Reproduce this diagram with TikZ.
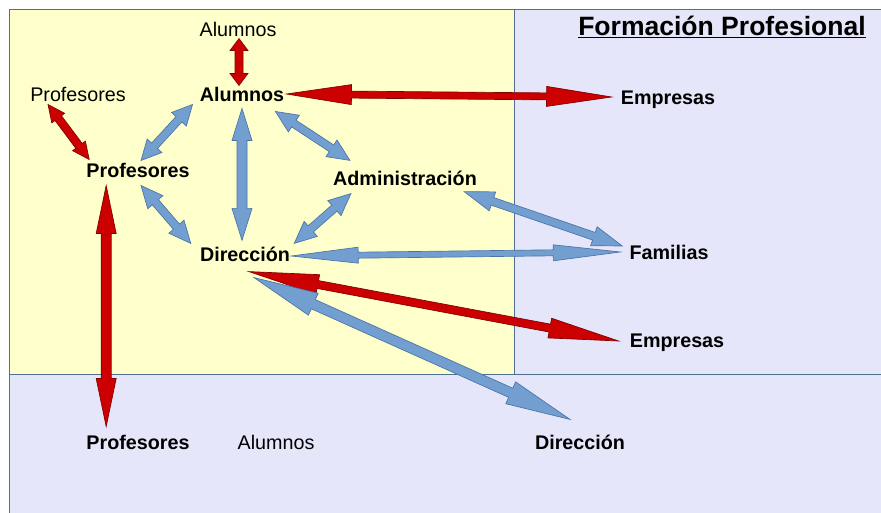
\documentclass[tikz,border=0pt]{standalone}
\usepackage{fontspec}
\setmainfont{Liberation Sans}
\usetikzlibrary{calc}

\definecolor{paleyellow}{HTML}{FFFFCC}
\definecolor{lavender}{HTML}{E6E6FA}
\definecolor{framecol}{HTML}{4F6F94}
\definecolor{redfill}{HTML}{CC0000}
\definecolor{redline}{HTML}{7F0000}
\definecolor{bluefill}{HTML}{729FCF}
\definecolor{blueline}{HTML}{4A74A8}

\tikzset{
    frame/.style={draw=framecol, line width=0.6pt},
    lbl/.style={font=\fontsize{14.8}{17}\selectfont, inner sep=0pt},
    blbl/.style={lbl, font=\fontsize{14.8}{17}\selectfont\bfseries},
    redarrow/.style={fill=redfill, draw=redline, line width=0.5pt, line join=miter},
    bluearrow/.style={fill=bluefill, draw=blueline, line width=0.5pt, line join=miter},
}

% #1 style, #2 head length, #3 head half width, #4 shaft half width (all px), #5 from, #6 to
\newcommand{\fatarrow}[6]{%
    \coordinate (fa1) at (#5);
    \coordinate (fa2) at (#6);
    \coordinate (fap) at ($(fa1)!#2*0.75pt!(fa2)$);
    \coordinate (faq) at ($(fa2)!#2*0.75pt!(fa1)$);
    \filldraw[#1] (fa1) -- ($(fap)!#3*0.75pt!90:(fa2)$) -- ($(fap)!#4*0.75pt!90:(fa2)$)
        -- ($(faq)!#4*0.75pt!-90:(fa1)$) -- ($(faq)!#3*0.75pt!-90:(fa1)$) -- (fa2)
        -- ($(faq)!#3*0.75pt!90:(fa1)$) -- ($(faq)!#4*0.75pt!90:(fa1)$)
        -- ($(fap)!#4*0.75pt!-90:(fa2)$) -- ($(fap)!#3*0.75pt!-90:(fa2)$) -- cycle;
}

\begin{document}
\begin{tikzpicture}[x=0.75pt, y=-0.75pt]
                \useasboundingbox (0,0) rectangle (881,513);
                \fill[white] (0,0) rectangle (881,513);
                \clip (0,0) rectangle (881,513);
                % areas
                \draw[frame, fill=lavender] (9,9) rectangle (895,525);
                \draw[frame, fill=paleyellow] (9,9) rectangle (514,374);
                \draw[frame] (9,374) -- (895,374);
                \node[font=\fontsize{19.9}{22}\selectfont\bfseries, inner sep=0pt] (title) at (722,27) {\underline{Formación Profesional}};
                % labels
                \node[lbl] (aluTop) at (238,29) {Alumnos};
                \node[lbl] (profTop) at (78,94) {Profesores};
                \node[blbl] (alu) at (242,94) {Alumnos};
                \node[blbl] (empA) at (668,100) {Empresas};
                \node[blbl] (prof) at (138,170) {Profesores};
                \node[blbl] (adm) at (405,178) {Administración};
                \node[blbl] (dir) at (245,254) {Dirección};
                \node[blbl] (fam) at (669,252) {Familias};
                \node[blbl] (empB) at (677,343) {Empresas};
                \node[blbl] (profBot) at (138,442) {Profesores};
                \node[lbl] (aluBot) at (276,442) {Alumnos};
                \node[blbl] (dirBot) at (580,442) {Dirección};
                % red arrows
                \fatarrow{redarrow}{12}{9}{4}{$(aluTop.south)+(1,2)$}{$(aluTop.south |- alu.north)+(1,-1)$}
                \fatarrow{redarrow}{17}{8}{4}{$(profTop.south west)+(18,3)$}{$(prof.north west)+(3,-3)$}
                \fatarrow{redarrow}{65}{10}{3.5}{$(alu.east)+(2,0)$}{$(empA.west)+(-9,-3)$}
                \fatarrow{redarrow}{70}{10}{4}{$(dir.south)+(4,10)$}{$(empB.west)+(-11,-2)$}
                \fatarrow{redarrow}{48}{10}{5}{$(prof.south west)+(20,8)$}{$(profBot.north west)+(20,-8)$}
                % blue arrows
                \fatarrow{bluearrow}{20}{10}{4}{$(alu.south west)+(-7,3)$}{$(prof.north)+(3,-2)$}
                \fatarrow{bluearrow}{32}{10}{5}{$(alu.south)+(0,7)$}{$(alu.south |- dir.north)+(0,-6)$}
                \fatarrow{bluearrow}{22}{10}{4}{$(alu.south east)+(-9,10)$}{$(adm.north west)+(17,-10)$}
                \fatarrow{bluearrow}{22}{10}{4}{$(prof.south)+(3,8)$}{$(dir.north west)+(-9,-3)$}
                \fatarrow{bluearrow}{22}{10}{4}{$(adm.south west)+(18,8)$}{$(dir.north east)+(4,-3)$}
                \fatarrow{bluearrow}{30}{10}{4}{$(adm.south east)+(-13,6)$}{$(fam.west)+(-7,-6)$}
                \fatarrow{bluearrow}{67}{8}{3}{$(dir.east)+(1,2)$}{$(fam.west)+(-9,0)$}
                \fatarrow{bluearrow}{65}{12}{5}{$(dir.south)+(9,16)$}{$(dirBot.north)+(-10,-15)$}
\end{tikzpicture}
\end{document}
